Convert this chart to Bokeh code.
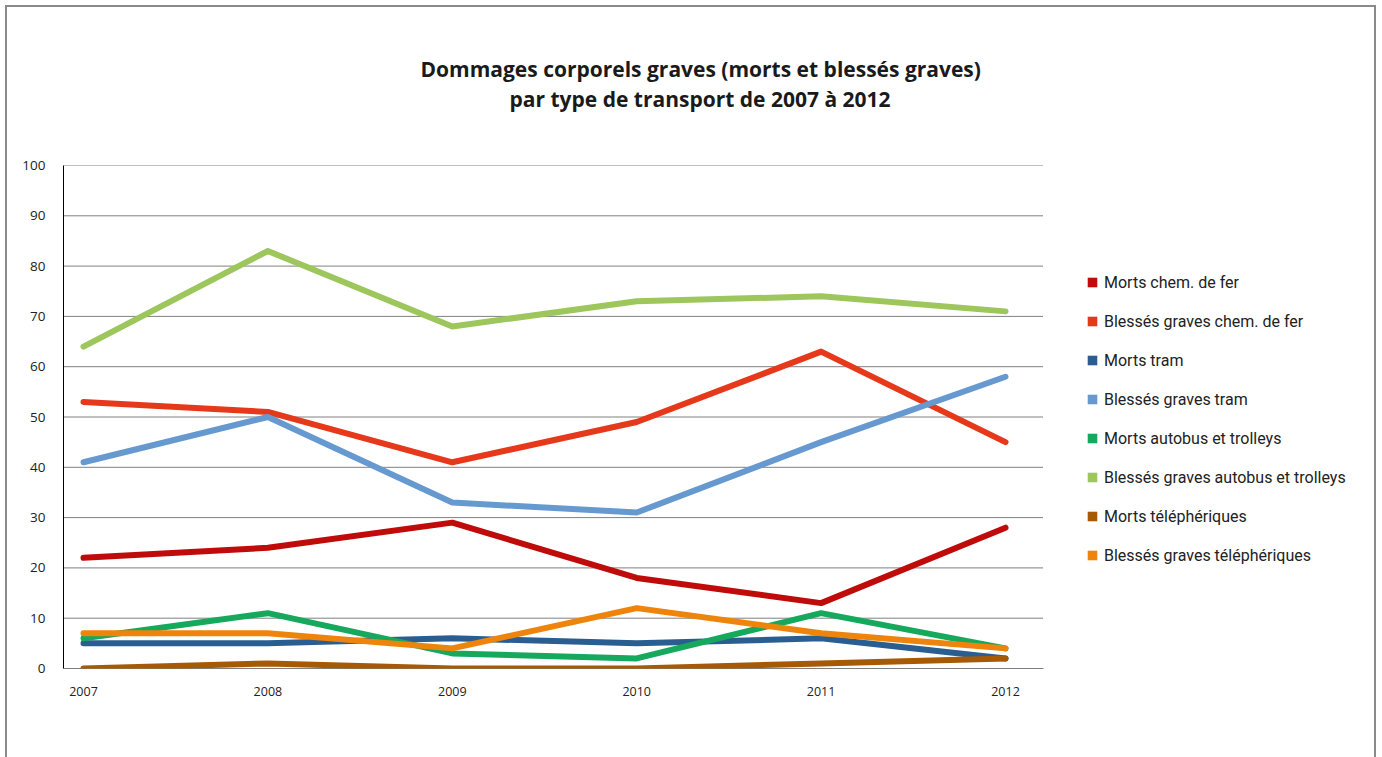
from bokeh.plotting import figure
from bokeh.models import (Legend, LegendItem, Title, Range1d, InlineStyleSheet,
                          FixedTicker)
from bokeh.embed import file_html
from bokeh.resources import INLINE

years = [2007, 2008, 2009, 2010, 2011, 2012]
series_names = [
    "Morts chem. de fer",
    "Blessés graves chem. de fer",
    "Morts tram",
    "Blessés graves tram",
    "Morts autobus et trolleys",
    "Blessés graves autobus et trolleys",
    "Morts téléphériques",
    "Blessés graves téléphériques",
]
morts_fer = [22, 24, 29, 18, 13, 28]
blesses_fer = [53, 51, 41, 49, 63, 45]
morts_tram = [5, 5, 6, 5, 6, 2]
blesses_tram = [41, 50, 33, 31, 45, 58]
morts_bus = [6, 11, 3, 2, 11, 4]
blesses_bus = [64, 83, 68, 73, 74, 71]
morts_tele = [0, 1, 0, 0, 1, 2]
blesses_tele = [7, 7, 4, 12, 7, 4]
y_ticks = [0, 10, 20, 30, 40, 50, 60, 70, 80, 90, 100]
colors = ["#C00B0B", "#E6381A", "#2A5E91", "#6699CF", "#16A85C", "#9DC65C", "#A65A05", "#EE840B"]
values = [morts_fer, blesses_fer, morts_tram, blesses_tram, morts_bus, blesses_bus, morts_tele, blesses_tele]
title_lines = ["Dommages corporels graves (morts et blessés graves)",
               "par type de transport de 2007 à 2012"]

FONT = "Open Sans"
W, H = 1382, 757
left, right, top, bottom = 63, 5, 165, 89
px_per_year = 184.4
x_start = 2007 - 20 / px_per_year
x_axis_end = 2012 + 38 / px_per_year
x_end = x_start + (W - left - right) / px_per_year

p = figure(width=W, height=H, output_backend="svg", toolbar_location=None,
           min_border_left=left, min_border_right=right, min_border_top=top,
           min_border_bottom=bottom,
           x_range=Range1d(x_start, x_end), y_range=Range1d(0, 100))
p.outline_line_color = None
p.background_fill_color = "white"
p.border_fill_color = "white"
p.stylesheets = [InlineStyleSheet(css=":host{position:relative;} :host::after{content:'';position:absolute;left:5px;top:5px;width:1371px;height:800px;border:2px solid #8a8a8a;box-sizing:border-box;pointer-events:none;}")]

p.xaxis.ticker = FixedTicker(ticks=years)
p.yaxis.ticker = FixedTicker(ticks=y_ticks)
for ax in (p.xaxis[0], p.yaxis[0]):
    ax.major_tick_line_color = None
    ax.minor_tick_line_color = None
    ax.major_label_text_font = FONT
    ax.major_label_text_color = "#222222"
p.yaxis.axis_line_color = "black"
p.xaxis.axis_line_color = None
p.xaxis.major_label_text_font_size = "12.5px"
p.yaxis.major_label_text_font_size = "13.5px"
p.xaxis.major_label_standoff = 12
p.yaxis.major_label_standoff = 12

p.xgrid.grid_line_color = None
p.ygrid.grid_line_color = None

# dotted horizontal gridlines and solid baseline, limited to the plot area
grid_y = [t for t in y_ticks if t > 0]
p.segment(x0=[x_start] * len(grid_y), x1=[x_axis_end] * len(grid_y), y0=grid_y, y1=grid_y,
          line_color="black", line_dash="1 1", line_width=1)
p.segment(x0=[x_start], x1=[x_axis_end], y0=[0], y1=[0], line_color="black", line_width=1)

for name, vals, c in zip(series_names, values, colors):
    p.line(years, vals, line_color=c, line_width=6, line_cap="round", line_join="round")

legend_items = []
for name, c in zip(series_names, colors):
    sq = p.quad(left=[2007], right=[2007], bottom=[-50], top=[-50], fill_color=c, line_color=None)
    legend_items.append(LegendItem(label=name, renderers=[sq]))

legend = Legend(items=legend_items, location=(1023, 103),
                label_text_font="Roboto", label_text_font_size="16px",
                label_text_color="#222222", glyph_width=12, glyph_height=12,
                label_standoff=6, spacing=19, label_height=20, padding=0, margin=0,
                border_line_color=None, background_fill_alpha=0)
p.add_layout(legend, "center")

spacer = Title(text=" ", text_font=FONT, text_font_size="21px", standoff=23)
t2 = Title(text=title_lines[1], align="left", offset=446, text_font=FONT,
           text_font_style="bold", text_font_size="21px", text_color="#1a1a1a",
           text_line_height=0.88, standoff=0)
t1 = Title(text=title_lines[0], align="left", offset=357, text_font=FONT,
           text_font_style="bold", text_font_size="21px", text_color="#1a1a1a",
           standoff=0)
p.add_layout(spacer, "above")
p.add_layout(t2, "above")
p.add_layout(t1, "above")

out = open("out.html", "w")
out.write(file_html(p, INLINE))
out.close()
